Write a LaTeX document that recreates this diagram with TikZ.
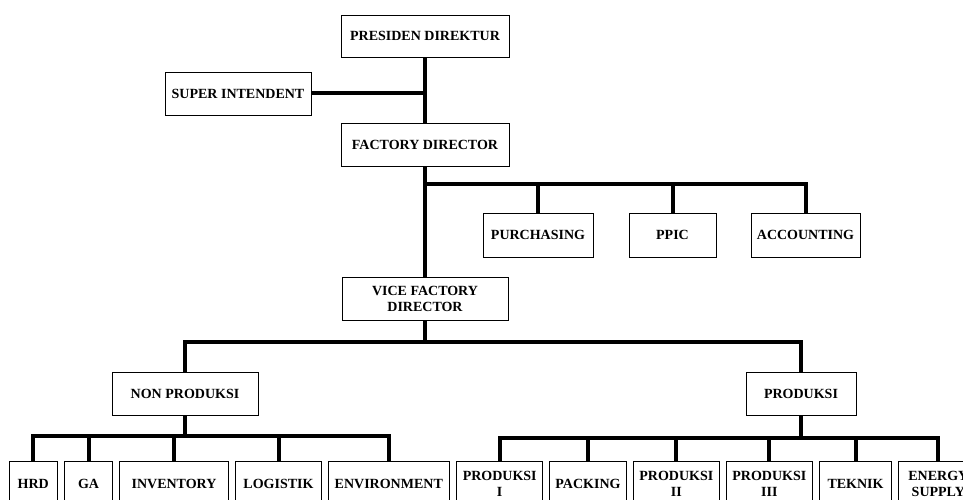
\documentclass[tikz,border=0pt]{standalone}
\usepackage{fontspec}
\setmainfont{Liberation Serif}
\begin{document}
\begin{tikzpicture}[x=1pt,y=-1pt,
  box/.style={draw=black,line width=0.9pt,fill=white,inner sep=0pt,align=center,
    font=\fontsize{14}{16}\selectfont\bfseries},
  conn/.style={line width=4pt,line join=miter,line cap=butt}]
\clip (0,0) rectangle (963,500);
\fill[white] (0,0) rectangle (963,500);
% top
\node[box,minimum width=168,minimum height=42] (pres) at (425,36) {PRESIDEN DIREKTUR};
\node[box,minimum width=146,minimum height=43] (sup) at (238,93.5) {SUPER INTENDENT};
\node[box,minimum width=168,minimum height=43] (fact) at (425,144.5) {FACTORY DIRECTOR};
% staff
\node[box,minimum width=110,minimum height=44] (purch) at (538,235) {PURCHASING};
\node[box,minimum width=87,minimum height=44] (ppic) at (672.5,235) {PPIC};
\node[box,minimum width=109,minimum height=44] (acc) at (805.5,235) {ACCOUNTING};
% vice
\node[box,minimum width=166,minimum height=43] (vice) at (425,298.5) {VICE FACTORY\\DIRECTOR};
% divisions
\node[box,minimum width=146,minimum height=43] (np) at (185,393.5) {NON PRODUKSI};
\node[box,minimum width=110,minimum height=43] (prod) at (801,393.5) {PRODUKSI};
% bottom left
\node[box,minimum width=48,minimum height=45] (hrd) at (33.3,483.5) {HRD};
\node[box,minimum width=48,minimum height=45] (ga) at (88.5,483.5) {GA};
\node[box,minimum width=109,minimum height=45] (inv) at (174,483.5) {INVENTORY};
\node[box,minimum width=86,minimum height=45] (log) at (278.5,483.5) {LOGISTIK};
\node[box,minimum width=121,minimum height=45] (env) at (388.8,483.5) {ENVIRONMENT};
% bottom right
\node[box,minimum width=86,minimum height=45] (p1) at (499.7,483.5) {PRODUKSI\\I};
\node[box,minimum width=77,minimum height=45] (pack) at (588,483.5) {PACKING};
\node[box,minimum width=86,minimum height=45] (p2) at (676.3,483.5) {PRODUKSI\\II};
\node[box,minimum width=86,minimum height=45] (p3) at (769.3,483.5) {PRODUKSI\\III};
\node[box,minimum width=72,minimum height=45] (tek) at (855.5,483.5) {TEKNIK};
\node[box,minimum width=80,minimum height=45] (eng) at (938.3,483.5) {ENERGY\\SUPPLY};
% junction coordinates
\coordinate (j1) at (425,183.5);
\coordinate (j2) at (425,342);
\coordinate (j3) at (185,436);
\coordinate (j4) at (801,438);
% connectors
\draw[conn] (pres.south) -- (fact.north);
\draw[conn] (sup.east) -- (sup.east -| pres.south);
\draw[conn] (fact.south) -- (vice.north);
\draw[conn] (j1) -- (j1 -| acc.north) -- (acc.north);
\draw[conn] (j1 -| purch.north) -- (purch.north);
\draw[conn] (j1 -| ppic.north) -- (ppic.north);
\draw[conn] (vice.south) -- (j2);
\draw[conn] (np.north) -- (j2 -| np.north) -- (j2 -| prod.north) -- (prod.north);
\draw[conn] (np.south) -- (j3);
\draw[conn] (hrd.north) -- (j3 -| hrd.north) -- (j3 -| env.north) -- (env.north);
\draw[conn] (j3 -| ga.north) -- (ga.north);
\draw[conn] (j3 -| inv.north) -- (inv.north);
\draw[conn] (j3 -| log.north) -- (log.north);
\draw[conn] (prod.south) -- (j4);
\draw[conn] (p1.north) -- (j4 -| p1.north) -- (j4 -| eng.north) -- (eng.north);
\draw[conn] (j4 -| pack.north) -- (pack.north);
\draw[conn] (j4 -| p2.north) -- (p2.north);
\draw[conn] (j4 -| p3.north) -- (p3.north);
\draw[conn] (j4 -| tek.north) -- (tek.north);
\end{tikzpicture}
\end{document}
